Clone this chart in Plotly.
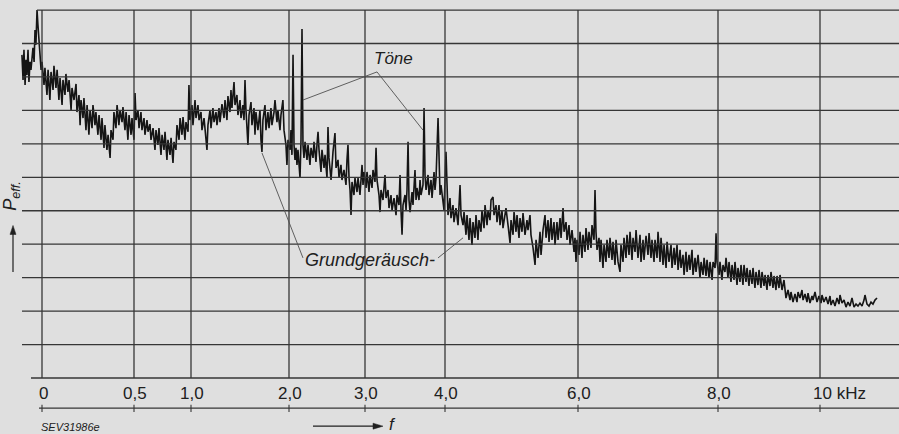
import numpy as np
import plotly.graph_objects as go

# ---------------- data ----------------
TICK_KHZ = [0, 0.5, 1.0, 2.0, 3.0, 4.0, 6.0, 8.0, 10.0]
TICK_LABELS = ["0", "0,5", "1,0", "2,0", "3,0", "4,0", "6,0", "8,0", "10 kHz"]
GRID_LEVELS = list(range(12))

# spectrum trace: frequency (kHz) and effective pressure (grid divisions)
F_KHZ = [
    -0.109, -0.103, -0.098, -0.092, -0.087, -0.082, -0.076, -0.071, -0.065, -0.060,
    -0.054, -0.049, -0.043, -0.038, -0.033, -0.027, -0.022, -0.016, -0.011, -0.005,
    0.000, 0.011, 0.016, 0.027, 0.033, 0.043, 0.049, 0.060, 0.065, 0.076,
    0.082, 0.092, 0.098, 0.109, 0.114, 0.125, 0.130, 0.141, 0.147, 0.158,
    0.163, 0.174, 0.185, 0.190, 0.201, 0.207, 0.212, 0.223, 0.228, 0.239,
    0.245, 0.255, 0.261, 0.272, 0.277, 0.288, 0.293, 0.304, 0.310, 0.321,
    0.326, 0.337, 0.342, 0.353, 0.359, 0.370, 0.375, 0.386, 0.391, 0.402,
    0.408, 0.418, 0.424, 0.435, 0.440, 0.451, 0.457, 0.467, 0.473, 0.484,
    0.489, 0.500,
    0.509, 0.518, 0.535, 0.544, 0.561, 0.570, 0.588, 0.596, 0.614, 0.623,
    0.640, 0.649, 0.667, 0.684, 0.693, 0.710, 0.719, 0.737, 0.746, 0.763,
    0.772, 0.789, 0.798, 0.816, 0.825, 0.842, 0.851, 0.868, 0.877, 0.895,
    0.904, 0.921, 0.930, 0.947, 0.956, 0.974, 0.982, 0.991,
    1.010, 1.020, 1.041, 1.051, 1.071, 1.082, 1.102, 1.112, 1.133, 1.153,
    1.163, 1.173, 1.194, 1.204, 1.224, 1.235, 1.255, 1.265, 1.286, 1.296,
    1.316, 1.337, 1.347, 1.367, 1.377, 1.398, 1.408, 1.418, 1.439, 1.449,
    1.469, 1.479, 1.500, 1.510, 1.530, 1.541, 1.551, 1.561, 1.581, 1.592,
    1.612, 1.622, 1.643, 1.653, 1.663, 1.683, 1.704, 1.714, 1.724, 1.734,
    1.755, 1.765, 1.785, 1.796, 1.816, 1.826, 1.847, 1.857, 1.877, 1.887,
    1.908, 1.918, 1.938, 1.949, 1.969, 1.979, 1.990,
    2.013, 2.026, 2.039, 2.053, 2.066, 2.079, 2.092, 2.105, 2.118, 2.145,
    2.158, 2.171, 2.184, 2.197, 2.211, 2.237, 2.250, 2.276, 2.290, 2.316,
    2.329, 2.355, 2.368, 2.382, 2.395, 2.421, 2.434, 2.461, 2.474, 2.500,
    2.513, 2.526, 2.553, 2.566, 2.579, 2.605, 2.619, 2.645, 2.658, 2.684,
    2.697, 2.724, 2.750, 2.763, 2.776, 2.790, 2.803, 2.816, 2.829, 2.855,
    2.868, 2.895, 2.908, 2.934, 2.947, 2.961, 2.974, 2.987,
    3.013, 3.025, 3.050, 3.063, 3.088, 3.100, 3.125, 3.138, 3.150, 3.163,
    3.175, 3.188, 3.200, 3.225, 3.250, 3.263, 3.288, 3.300, 3.325, 3.338,
    3.363, 3.388, 3.400, 3.425, 3.438, 3.450, 3.463, 3.475, 3.500, 3.513,
    3.525, 3.538, 3.550, 3.563, 3.588, 3.600, 3.625, 3.638, 3.650, 3.675,
    3.688, 3.700, 3.725, 3.738, 3.750, 3.763, 3.788, 3.800, 3.825, 3.838,
    3.863, 3.875, 3.888, 3.913, 3.925, 3.938, 3.950, 3.975, 3.988,
    4.015, 4.030, 4.045, 4.075, 4.090, 4.120, 4.135, 4.165, 4.196, 4.211,
    4.226, 4.241, 4.271, 4.286, 4.316, 4.331, 4.361, 4.376, 4.406, 4.421,
    4.451, 4.466, 4.496, 4.511, 4.541, 4.556, 4.587, 4.602, 4.632, 4.647,
    4.677, 4.692, 4.722, 4.737, 4.767, 4.782, 4.812, 4.827, 4.857, 4.872,
    4.902, 4.917, 4.948, 4.978, 4.993, 5.023, 5.038, 5.068, 5.083, 5.113,
    5.128, 5.158, 5.173, 5.203, 5.233, 5.248, 5.278, 5.293, 5.324, 5.354,
    5.369, 5.399, 5.429, 5.444, 5.474, 5.504, 5.519, 5.549, 5.564, 5.594,
    5.609, 5.639, 5.654, 5.684, 5.700, 5.730, 5.745, 5.775, 5.790, 5.820,
    5.835, 5.865, 5.880, 5.910, 5.940, 5.955, 5.970, 5.985,
    6.014, 6.029, 6.057, 6.071, 6.100, 6.114, 6.143, 6.157, 6.186, 6.200,
    6.229, 6.243, 6.257, 6.272, 6.300, 6.314, 6.329, 6.357, 6.372, 6.400,
    6.414, 6.443, 6.457, 6.486, 6.500, 6.529, 6.543, 6.572, 6.600, 6.614,
    6.643, 6.657, 6.686, 6.700, 6.729, 6.743, 6.772, 6.786, 6.815, 6.829,
    6.857, 6.886, 6.900, 6.929, 6.943, 6.972, 7.000, 7.015, 7.043, 7.057,
    7.086, 7.100, 7.129, 7.143, 7.172, 7.186, 7.215, 7.229, 7.258, 7.272,
    7.300, 7.329, 7.343, 7.372, 7.386, 7.415, 7.429, 7.458, 7.472, 7.500,
    7.515, 7.543, 7.558, 7.586, 7.600, 7.629, 7.643, 7.672, 7.686, 7.715,
    7.743, 7.758, 7.786, 7.801, 7.829, 7.843, 7.872, 7.886, 7.915, 7.929,
    7.958, 7.972, 7.986,
    8.020, 8.039, 8.078, 8.098, 8.137, 8.157, 8.196, 8.216, 8.255, 8.275,
    8.314, 8.333, 8.373, 8.392, 8.431, 8.451, 8.490, 8.510, 8.549, 8.569,
    8.608, 8.627, 8.667, 8.686, 8.725, 8.745, 8.784, 8.804, 8.843, 8.863,
    8.902, 8.922, 8.961, 8.980, 9.020, 9.039, 9.078, 9.098, 9.137, 9.157,
    9.196, 9.216, 9.255, 9.294, 9.314, 9.333, 9.373, 9.412, 9.431, 9.471,
    9.510, 9.549, 9.569, 9.608, 9.647, 9.667, 9.706, 9.745, 9.765, 9.804,
    9.843, 9.863, 9.902, 9.941, 9.980,
    10.020, 10.039, 10.078, 10.118, 10.157, 10.196, 10.216, 10.255, 10.294, 10.333,
    10.373, 10.392, 10.431, 10.471, 10.510, 10.549, 10.588, 10.627, 10.667, 10.706,
    10.745, 10.784, 10.824, 10.863, 10.882, 10.922, 10.961, 11.000, 11.039, 11.078, 11.118,
]
P_EFF = [
    9.66, 8.91, 9.81, 8.76, 9.51, 9.06, 9.81, 8.85, 9.45, 9.21,
    9.57, 9.87, 9.45, 10.40, 9.96, 11.00, 10.55, 10.11, 9.51, 9.21,
    9.45, 8.76, 9.27, 8.46, 9.21, 8.31, 9.15, 8.61, 9.33, 8.67,
    9.21, 8.31, 8.97, 8.16, 8.91, 8.46, 9.09, 8.55, 8.91, 8.01,
    8.67, 8.31, 8.79, 7.95, 8.46, 7.56, 8.31, 7.77, 8.37, 7.41,
    8.16, 7.27, 8.01, 7.47, 8.16, 7.56, 7.95, 7.27, 7.86, 7.12,
    7.77, 6.88, 7.56, 6.82, 7.27, 6.58, 7.41, 7.12, 7.95, 7.47,
    8.16, 7.56, 8.01, 7.65, 8.10, 7.41, 7.95, 7.12, 7.86, 7.27,
    7.77, 7.12,
    8.52, 7.71, 8.01, 7.47, 7.95, 7.41, 7.77, 7.27, 7.71, 7.36,
    7.59, 7.12, 7.47, 6.82, 7.41, 6.97, 7.47, 6.67, 7.27, 6.82,
    7.36, 6.52, 7.12, 6.67, 7.18, 6.43, 7.06, 6.82, 7.56, 7.12,
    7.77, 7.27, 7.80, 7.12, 7.65, 7.36, 8.76, 7.71,
    8.16, 7.56, 8.31, 7.77, 8.16, 7.71, 7.95, 7.41, 7.77, 7.18,
    6.82, 7.56, 8.01, 7.47, 8.07, 7.65, 7.95, 7.56, 8.07, 7.65,
    8.19, 7.77, 8.31, 7.71, 8.43, 7.95, 8.61, 8.07, 8.85, 8.16,
    8.46, 7.86, 8.31, 7.77, 8.16, 7.71, 8.91, 8.01, 6.97, 7.86,
    8.25, 7.56, 8.07, 7.27, 7.95, 7.41, 8.01, 7.12, 6.76, 7.71,
    8.16, 7.41, 7.95, 7.47, 8.07, 7.56, 7.95, 8.31, 7.65, 8.01,
    7.41, 7.86, 8.31, 7.41, 6.97, 6.37, 7.12,
    6.82, 7.41, 6.67, 9.66, 6.97, 6.52, 6.88, 6.37, 6.82, 5.98,
    7.12, 10.43, 6.97, 6.58, 7.06, 6.52, 6.97, 6.37, 6.88, 6.58,
    7.06, 6.46, 6.97, 7.36, 6.82, 6.16, 6.82, 6.28, 6.67, 5.98,
    7.50, 6.58, 5.92, 6.37, 6.76, 7.32, 6.28, 6.52, 5.98, 6.37,
    5.92, 6.22, 5.77, 6.52, 6.97, 5.98, 5.62, 4.87, 5.86, 5.47,
    5.98, 5.56, 5.98, 5.47, 6.07, 6.37, 5.77, 6.16,
    5.68, 6.16, 5.56, 6.07, 5.68, 6.22, 5.86, 6.88, 5.92, 5.68,
    5.47, 4.96, 5.62, 5.32, 6.07, 5.38, 5.62, 5.08, 5.47, 5.02,
    5.38, 4.87, 5.47, 5.17, 6.07, 5.02, 4.28, 5.17, 5.47, 5.02,
    5.62, 7.06, 5.32, 4.96, 5.56, 5.17, 6.22, 5.32, 5.68, 5.32,
    5.92, 5.47, 5.77, 8.07, 6.07, 5.62, 6.07, 5.47, 5.92, 5.38,
    6.16, 5.62, 5.98, 7.77, 6.07, 5.47, 5.77, 5.17, 5.02,
    6.76, 5.32, 4.87, 5.38, 4.78, 5.17, 4.66, 5.08, 4.57, 5.17,
    5.77, 4.87, 4.57, 4.96, 4.28, 4.87, 4.13, 4.78, 3.98, 4.66,
    4.19, 4.87, 4.13, 4.72, 4.37, 5.02, 4.48, 5.17, 4.57, 5.02,
    4.72, 5.32, 5.41, 4.87, 5.17, 4.66, 5.17, 4.57, 5.02, 4.48,
    4.96, 5.08, 4.57, 4.04, 4.72, 4.28, 4.96, 4.37, 4.87, 4.19,
    4.78, 4.37, 4.93, 4.28, 4.72, 4.42, 4.87, 4.28, 3.89, 3.38,
    4.13, 3.59, 4.37, 3.68, 4.42, 4.87, 4.19, 4.72, 4.07, 4.78,
    4.13, 4.66, 3.98, 4.66, 4.13, 4.78, 4.19, 5.08, 4.37, 4.66,
    4.13, 4.57, 3.98, 4.42, 3.77, 4.19, 3.47, 4.13,
    3.68, 4.37, 3.59, 4.28, 3.77, 4.48, 3.83, 4.37, 3.89, 4.57,
    4.13, 5.62, 4.37, 3.83, 4.19, 3.47, 4.13, 3.29, 3.98, 3.47,
    4.13, 3.59, 4.19, 3.53, 4.07, 3.38, 4.13, 3.47, 3.17, 3.98,
    3.47, 4.19, 3.59, 4.28, 3.68, 4.37, 3.53, 4.19, 3.77, 4.42,
    3.59, 4.28, 3.47, 4.13, 3.53, 4.25, 3.68, 4.33, 3.59, 4.13,
    3.47, 4.13, 3.59, 4.37, 3.47, 4.19, 3.38, 3.98, 3.29, 4.07,
    3.47, 3.98, 3.29, 3.89, 3.38, 3.98, 3.23, 3.83, 3.29, 3.68,
    3.08, 3.77, 3.17, 3.68, 3.23, 3.83, 3.08, 3.59, 3.17, 3.68,
    2.99, 3.47, 3.08, 3.59, 3.05, 3.53, 2.99, 3.47, 2.93, 3.47,
    3.29, 4.33, 3.47,
    3.08, 3.47, 2.93, 3.38, 3.17, 3.59, 2.99, 3.47, 2.87, 3.38,
    2.93, 3.47, 2.78, 3.29, 2.87, 3.38, 2.78, 3.38, 2.87, 3.29,
    2.75, 3.23, 2.81, 3.29, 2.69, 3.17, 2.78, 3.23, 2.69, 3.17,
    2.75, 3.08, 2.63, 3.08, 2.75, 3.17, 2.69, 3.05, 2.63, 3.05,
    2.69, 3.08, 2.63, 2.93, 2.57, 2.39, 2.63, 2.33, 2.57, 2.27,
    2.51, 2.27, 2.57, 2.39, 2.63, 2.33, 2.51, 2.27, 2.54, 2.24,
    2.45, 2.33, 2.57, 2.27, 2.45,
    2.24, 2.48, 2.27, 2.42, 2.21, 2.45, 2.18, 2.33, 2.15, 2.39,
    2.21, 2.48, 2.24, 2.33, 2.12, 2.27, 2.15, 2.39, 2.12, 2.21,
    2.15, 2.24, 2.15, 2.33, 2.48, 2.21, 2.15, 2.27, 2.21, 2.33, 2.39,
]
assert len(F_KHZ) == len(P_EFF), (len(F_KHZ), len(P_EFF))

# ---------------- printed (non-linear) frequency scale ----------------
SCALE_KHZ = [-1.0, 0, 0.5, 1.0, 2.0, 3.0, 4.0, 6.0, 8.0, 10.0, 12.0]
SCALE_POS = [-184, 0, 92, 149, 247, 323, 403, 536, 676, 778, 880]


def warp(f):
    return np.interp(np.asarray(f, dtype=float), SCALE_KHZ, SCALE_POS)


INK = "#202020"
GRID = "#363636"
PAPER = "#dfdfdf"
FONT = "Liberation Sans Narrow, Arial Narrow, Liberation Sans, sans-serif"
FONT_IT = "Liberation Sans, Arial, sans-serif"

x_trace = warp(F_KHZ)
tick_pos = warp(TICK_KHZ)
X_MIN, X_MAX = -42, 857
Y_MIN, Y_MAX = -1.674, 11.30
PX_Y = 33.45  # pixels per grid division (for arrowhead sizes)

fig = go.Figure()
fig.add_trace(go.Scatter(
    x=x_trace, y=P_EFF, mode="lines",
    line=dict(color="#151515", width=1.6), hoverinfo="skip",
))

shapes = []
for lv in GRID_LEVELS:
    x0 = -20
    if lv == GRID_LEVELS[-1]:
        x0 = -5
    if lv == 0:
        x0 = -11
    shapes.append(dict(type="line", xref="x", yref="y", x0=x0, x1=X_MAX + 5,
                       y0=lv, y1=lv, line=dict(color=GRID, width=1.3)))
for p in tick_pos:
    shapes.append(dict(type="line", xref="x", yref="y", x0=p, x1=p,
                       y0=0, y1=GRID_LEVELS[-1], line=dict(color=GRID, width=1.3)))
AX_Y = -0.9
shapes.append(dict(type="line", xref="x", yref="y", x0=-3, x1=X_MAX + 5,
                   y0=AX_Y, y1=AX_Y, line=dict(color=GRID, width=1.1)))
for p in tick_pos:
    shapes.append(dict(type="line", xref="x", yref="y", x0=p, x1=p,
                       y0=AX_Y + 0.1, y1=AX_Y - 0.12, line=dict(color=GRID, width=1.1)))

# leader lines for the labels
LEAD = dict(color="#505050", width=0.9)
toene_apex = (3.15, 9.15)
for (fk, lv) in [(2.184, 8.31), (3.725, 7.41)]:
    shapes.append(dict(type="line", xref="x", yref="y",
                       x0=float(warp(toene_apex[0])), y0=toene_apex[1],
                       x1=float(warp(fk)), y1=lv, line=LEAD))
shapes.append(dict(type="line", xref="x", yref="y",
                   x0=float(warp(1.724)), y0=6.73, x1=float(warp(2.184)), y1=3.59, line=LEAD))
shapes.append(dict(type="line", xref="x", yref="y",
                   x0=float(warp(3.913)), y0=3.59, x1=float(warp(4.271)), y1=4.19, line=LEAD))

# arrow next to P_eff (pointing up)
PA_X, PA_Y0, PA_Y1 = -29, 3.17, 4.56
shapes.append(dict(type="line", xref="x", yref="y", x0=PA_X, x1=PA_X,
                   y0=PA_Y0, y1=PA_Y1 - 0.1, line=dict(color=INK, width=1.2)))
shapes.append(dict(type="path", xref="x", yref="y",
                   path=f"M {PA_X} {PA_Y1} L {PA_X - 3} {PA_Y1 - 9 / PX_Y} "
                        f"L {PA_X + 3} {PA_Y1 - 9 / PX_Y} Z",
                   fillcolor=INK, line=dict(color=INK, width=0.5)))
# arrow next to f (pointing right)
FA_Y, FA_X0, FA_X1 = -1.44, 271, 341
shapes.append(dict(type="line", xref="x", yref="y", x0=FA_X0, x1=FA_X1 - 3,
                   y0=FA_Y, y1=FA_Y, line=dict(color=INK, width=1.2)))
shapes.append(dict(type="path", xref="x", yref="y",
                   path=f"M {FA_X1} {FA_Y} L {FA_X1 - 10} {FA_Y + 3 / PX_Y} "
                        f"L {FA_X1 - 10} {FA_Y - 3 / PX_Y} Z",
                   fillcolor=INK, line=dict(color=INK, width=0.5)))

annotations = []
for p, lab in zip(tick_pos, TICK_LABELS):
    if lab.endswith("kHz"):
        annotations.append(dict(x=p - 9, y=-0.45, xref="x", yref="y", text=lab,
                                showarrow=False, xanchor="left", yanchor="middle",
                                font=dict(family=FONT, size=17, color=INK)))
    else:
        annotations.append(dict(x=p + 1, y=-0.45, xref="x", yref="y", text=lab,
                                showarrow=False, xanchor="center", yanchor="middle",
                                font=dict(family=FONT, size=17, color=INK)))

annotations += [
    dict(x=float(warp(3.15)) + 16, y=9.55, xref="x", yref="y", text="<i>Töne</i>",
         showarrow=False, xanchor="center", yanchor="middle",
         font=dict(family=FONT_IT, size=17, color=INK)),
    dict(x=float(warp(2.19)), y=3.54, xref="x", yref="y", text="<i>Grundgeräusch-</i>",
         showarrow=False, xanchor="left", yanchor="middle",
         font=dict(family=FONT_IT, size=18, color=INK)),
    dict(x=-30, y=5.45, xref="x", yref="y", text="<i>P<sub>eff.</sub></i>",
         textangle=-90, showarrow=False, xanchor="center", yanchor="middle",
         font=dict(family=FONT_IT, size=18, color=INK)),
    dict(x=350, y=-1.40, xref="x", yref="y", text="<i>f</i>",
         showarrow=False, xanchor="center", yanchor="middle",
         font=dict(family=FONT_IT, size=17, color=INK)),
    dict(x=-3, y=-1.47, xref="x", yref="y", text="<i>SEV31986e</i>",
         showarrow=False, xanchor="left", yanchor="middle",
         font=dict(family=FONT_IT, size=11, color=INK)),
]

fig.update_layout(
    width=899, height=434,
    margin=dict(l=0, r=0, t=0, b=0, pad=0),
    paper_bgcolor=PAPER, plot_bgcolor=PAPER,
    showlegend=False, hovermode=False,
    xaxis=dict(range=[X_MIN, X_MAX], visible=False, fixedrange=True),
    yaxis=dict(range=[Y_MIN, Y_MAX], visible=False, fixedrange=True),
    shapes=shapes, annotations=annotations,
)

fig.write_html(
    "out.html",
    config={"displayModeBar": False, "responsive": False},
    post_script=(
        "document.documentElement.style.margin='0';"
        "document.documentElement.style.overflow='hidden';"
        "document.body.style.margin='0';"
        "document.body.style.overflow='hidden';"
    ),
)
